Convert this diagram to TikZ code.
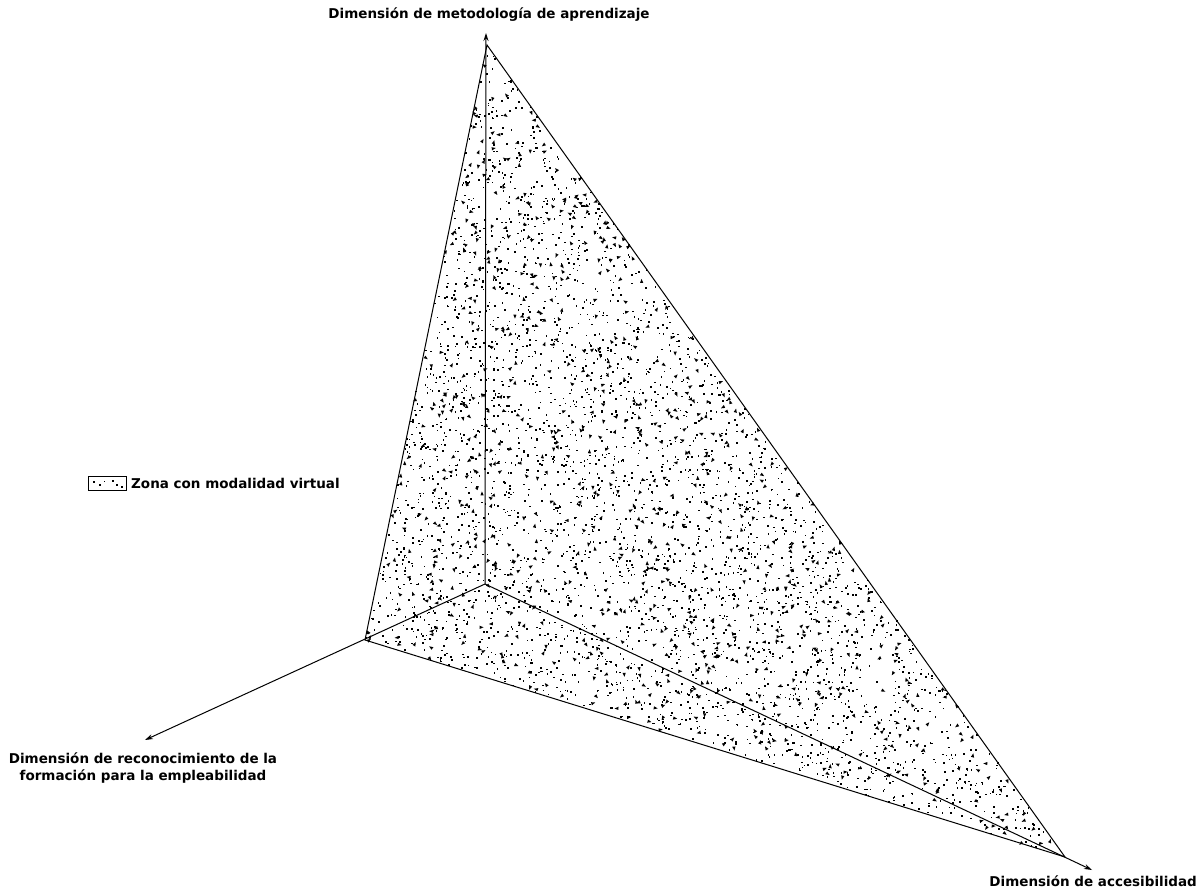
\documentclass[tikz,border=0pt]{standalone}
\usepackage{fontspec}
\setmainfont{DejaVu Sans}
\usetikzlibrary{arrows.meta}
\tikzset{
  axis/.style={line width=1pt,-{Stealth[length=8pt,width=5pt]}},
  edge/.style={line width=1pt},
  lbl/.style={font=\bfseries\fontsize{13.5}{17}\selectfont, inner sep=0pt, align=center},
  dotsm/.style={fill=black},
}
\begin{document}
\begin{tikzpicture}[x=1pt,y=-1pt]
\useasboundingbox (0,0) rectangle (1204,890);
\fill[white] (0,0) rectangle (1204,890);
% key points
\coordinate (O) at (485,584);
\coordinate (T) at (487,45);
\coordinate (L) at (365,640);
\coordinate (R) at (1065,857);
\coordinate (Ta) at (486,33);
\coordinate (La) at (145,740);
\coordinate (Ra) at (1092,870);
% dots in triangle T-L-R
\pgfmathsetseed{12345}
\foreach \i in {1,...,3400}{
  \pgfmathsetmacro{\u}{rnd}
  \pgfmathsetmacro{\v}{rnd}
  \pgfmathsetmacro{\a}{(\u+\v>1)?(1-\u):\u}
  \pgfmathsetmacro{\b}{(\u+\v>1)?(1-\v):\v}
  \pgfmathsetmacro{\px}{487-122*\a+578*\b}
  \pgfmathsetmacro{\py}{45+595*\a+812*\b}
  \fill[dotsm] (\px-0.8,\py-0.8) rectangle (\px+0.8,\py+0.8);
}
\foreach \i in {1,...,850}{
  \pgfmathsetmacro{\u}{rnd}
  \pgfmathsetmacro{\v}{rnd}
  \pgfmathsetmacro{\a}{(\u+\v>1)?(1-\u):\u}
  \pgfmathsetmacro{\b}{(\u+\v>1)?(1-\v):\v}
  \pgfmathsetmacro{\px}{487-122*\a+578*\b}
  \pgfmathsetmacro{\py}{45+595*\a+812*\b}
  \pgfmathsetmacro{\rot}{360*rnd}
  \fill[dotsm,rotate around={\rot:(\px,\py)}] (\px-2.2,\py-0.9) -- (\px+2.2,\py-1.2) -- (\px+1.0,\py+1.8) -- cycle;
}
% triangle edges
\draw[edge] (T) -- (L) -- (R) -- cycle;
% axes
\draw[axis] (O) -- (Ta);
\draw[axis] (O) -- (La);
\draw[axis] (O) -- (Ra);
% legend
\node[draw, line width=1pt, minimum width=38pt, minimum height=14pt, inner sep=0pt] (key) at (107,483) {};
\fill (93,481) rectangle +(1.6,1.6); \fill (99,484) rectangle +(2,1.6); \fill (104,481) rectangle +(1.4,1.4);
\fill (112,480) rectangle +(1.6,1.6); \fill (116,484) rectangle +(2.4,2); \fill (121,486) rectangle +(1.6,1.6);
\node[lbl, anchor=west] (keylbl) at (131,483) {Zona con modalidad virtual};
% labels
\node[lbl] (lt) at (489,15) {Dimensión de metodología de aprendizaje};
\node[lbl] (ll) at (143,768) {Dimensión de reconocimiento de la\\formación para la empleabilidad};
\node[lbl, anchor=east] (lr) at (1197,881) {Dimensión de accesibilidad};
\end{tikzpicture}
\end{document}
